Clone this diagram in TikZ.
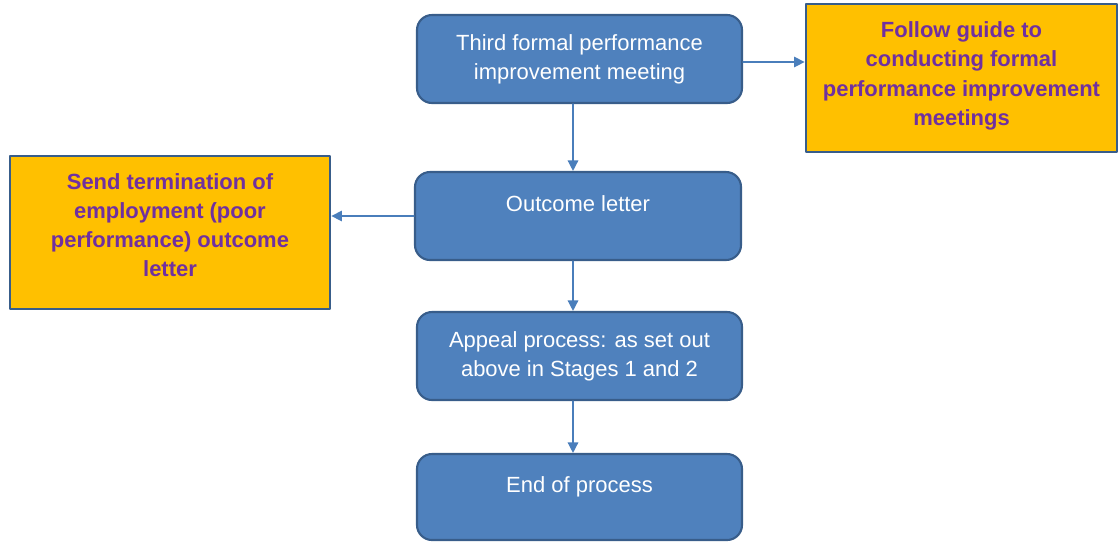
\documentclass[tikz,border=0pt]{standalone}
\usepackage{fontspec}
\setmainfont{Liberation Sans}
\usetikzlibrary{arrows.meta}
\definecolor{stepblue}{HTML}{4F81BD}
\definecolor{stepedge}{HTML}{385D8A}
\definecolor{noteyellow}{HTML}{FFC000}
\definecolor{notetext}{HTML}{7030A0}
\definecolor{linkblue}{HTML}{4A7EBB}
\tikzset{
  stepbox/.style={draw=stepedge, line width=1.2pt, fill=stepblue, rounded corners=0.3cm,
    minimum width=6.5cm, minimum height=1.76cm, align=center, text=white,
    font=\fontsize{12.5}{16.5}\selectfont},
  notebox/.style={draw=stepedge, line width=1.6pt, fill=noteyellow,
    align=center, text=notetext, font=\fontsize{12.5}{16.6}\selectfont\bfseries},
  raised/.style={text depth=#1},
  raised/.default=0.5cm,
  link/.style={draw=linkblue, line width=0.8pt, -{Triangle[length=6pt,width=6pt]}}
}
\begin{document}
\begin{tikzpicture}[line join = round, line cap = round]
	\useasboundingbox (0,0) rectangle (22.38,-10.84);
	% main steps
	\node[stepbox] (third) at (11.59,-1.18) {Third formal performance\\improvement meeting};
	\node[stepbox, minimum width=6.52cm, raised] (outcome) at (11.56,-4.32) {Outcome letter};
	\node[stepbox] (appeal) at (11.59,-7.12) {Appeal process: as set out\\above in Stages 1 and 2};
	\node[stepbox, minimum height=1.72cm, raised] (endproc) at (11.59,-9.94) {End of process};
	% side notes
	\node[notebox, minimum width=6.22cm, minimum height=2.96cm, raised=0.18cm] (guide) at (19.23,-1.56)
		{Follow guide to\\conducting formal\\performance improvement\\meetings};
	\node[notebox, minimum width=6.4cm, minimum height=3.06cm, raised=0.3cm] (sendletter) at (3.4,-4.65)
		{Send termination of\\employment (poor\\performance) outcome\\letter};
	% connectors
	\draw[link] ([xshift=-0.13cm]third.south) -- ([xshift=-0.1cm]outcome.north);
	\draw[link] ([xshift=-0.1cm]outcome.south) -- ([xshift=-0.13cm]appeal.north);
	\draw[link] ([xshift=-0.13cm]appeal.south) -- ([xshift=-0.13cm]endproc.north);
	\draw[link] ([yshift=-0.06cm]third.east) -- ([yshift=-0.06cm]third.east -| guide.west);
	\draw[link] (outcome.west) -- (outcome.west -| sendletter.east);
\end{tikzpicture}
\end{document}
